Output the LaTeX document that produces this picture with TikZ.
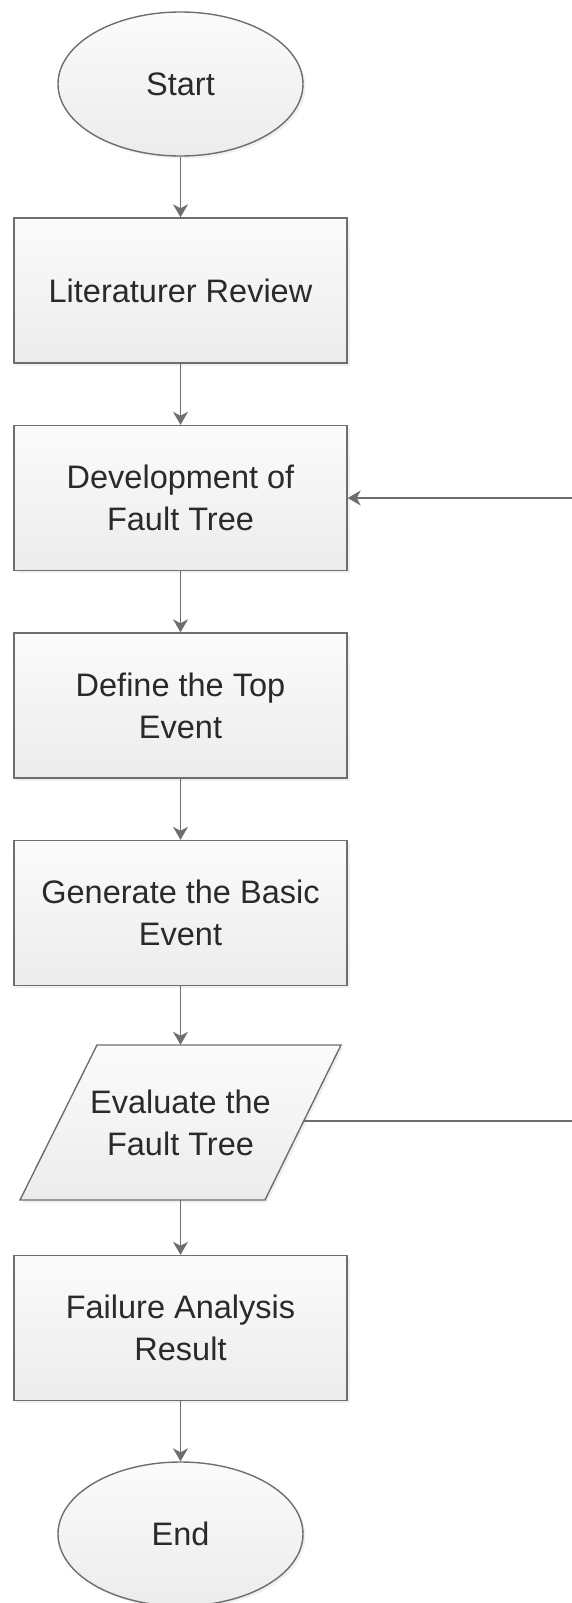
\documentclass[tikz,border=0pt]{standalone}
\usepackage{fontspec}
\setmainfont{Liberation Sans}
\usetikzlibrary{shapes.geometric,arrows.meta,shadows}
\definecolor{linegray}{HTML}{6E6E6E}
\definecolor{txt}{HTML}{2A2A2A}
\definecolor{filltop}{HTML}{FBFBFB}
\definecolor{fillbot}{HTML}{ECECEC}
\tikzset{
  shapebase/.style={draw=linegray, line width=1.4pt, top color=filltop, bottom color=fillbot,
    text=txt, align=center, inner sep=0pt,
    font=\fontsize{32.5}{42}\selectfont,
    drop shadow={opacity=0.12, shadow xshift=2.5pt, shadow yshift=-2.5pt}},
  stepbox/.style={shapebase, rectangle, minimum width=333pt, minimum height=145pt},
  terminal/.style={shapebase, ellipse, minimum width=245pt, minimum height=144pt},
  lbl/.style={text=txt, align=center, inner sep=0pt, font=\fontsize{32.5}{42}\selectfont,
    minimum width=244pt, minimum height=155pt},
  arr/.style={draw=linegray, line width=1.4pt, -{Stealth[length=13pt,width=15pt,inset=4pt]}},
  conn/.style={draw=linegray, line width=1.4pt}
}
\begin{document}
\begin{tikzpicture}[x=1pt,y=-1pt]
\useasboundingbox (0,0) rectangle (572,1603);
\node[terminal] (start) at (180.5,84) {Start};
\node[stepbox] (b1) at (180.5,290.5) {Literaturer Review};
\node[stepbox] (b2) at (180.5,498) {Development of\\Fault Tree};
\node[stepbox] (b3) at (180.5,705.5) {Define the Top\\Event};
\node[stepbox] (b4) at (180.5,913) {Generate the Basic\\Event};
% parallelogram
\path[draw=linegray, line width=1.4pt, top color=filltop, bottom color=fillbot,
  drop shadow={opacity=0.12, shadow xshift=2.5pt, shadow yshift=-2.5pt}]
  (97,1045) -- (341,1045) -- (265,1200) -- (20,1200) -- cycle;
\node[lbl] (eval) at (180.5,1122.5) {Evaluate the\\Fault Tree};
\coordinate (evright) at (303,1121);
\node[stepbox] (b5) at (180.5,1328) {Failure Analysis\\Result};
\node[terminal] (end) at (180.5,1534) {End};
% connectors
\draw[arr] (start) -- (b1);
\draw[arr] (b1) -- (b2);
\draw[arr] (b2) -- (b3);
\draw[arr] (b3) -- (b4);
\draw[arr] (b4) -- (eval.north);
\draw[arr] (eval.south) -- (b5);
\draw[arr] (b5) -- (end);
\coordinate (fbA) at (576,1121);
\coordinate (fbB) at (576,498);
\draw[arr] (evright) -- (fbA) -- (fbB) -- (b2.east);
\end{tikzpicture}
\end{document}
